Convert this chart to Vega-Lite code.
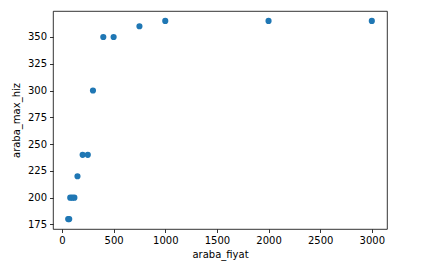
{
  "$schema": "https://vega.github.io/schema/vega-lite/v6.json",
  "width": 334,
  "height": 218,
  "autosize": "none",
  "padding": {"left": 53, "top": 11, "right": 44, "bottom": 41},
  "background": "white",
  "config": {
    "view": {"stroke": "black", "strokeWidth": 0.8},
    "font": "DejaVu Sans",
    "axis": {
      "grid": false,
      "domain": false,
      "tickColor": "black",
      "tickWidth": 0.8,
      "tickSize": 3.5,
      "labelColor": "black",
      "labelFontSize": 10,
      "labelFont": "DejaVu Sans",
      "labelPadding": 3,
      "titleFont": "DejaVu Sans",
      "titleFontSize": 10,
      "titleFontWeight": "normal",
      "titleColor": "black"
    }
  },
  "data": {
    "values": [
      {"araba_fiyat": 60, "araba_max_hiz": 180},
      {"araba_fiyat": 70, "araba_max_hiz": 180},
      {"araba_fiyat": 80, "araba_max_hiz": 200},
      {"araba_fiyat": 100, "araba_max_hiz": 200},
      {"araba_fiyat": 120, "araba_max_hiz": 200},
      {"araba_fiyat": 150, "araba_max_hiz": 220},
      {"araba_fiyat": 200, "araba_max_hiz": 240},
      {"araba_fiyat": 250, "araba_max_hiz": 240},
      {"araba_fiyat": 300, "araba_max_hiz": 300},
      {"araba_fiyat": 400, "araba_max_hiz": 350},
      {"araba_fiyat": 500, "araba_max_hiz": 350},
      {"araba_fiyat": 750, "araba_max_hiz": 360},
      {"araba_fiyat": 1000, "araba_max_hiz": 365},
      {"araba_fiyat": 2000, "araba_max_hiz": 365},
      {"araba_fiyat": 3000, "araba_max_hiz": 365}
    ]
  },
  "mark": {"type": "point", "shape": "circle", "filled": true, "opacity": 1, "size": 38, "color": "#1f77b4"},
  "encoding": {
    "x": {
      "field": "araba_fiyat",
      "type": "quantitative",
      "title": "araba_fiyat",
      "scale": {"domain": [-87, 3147], "nice": false, "zero": false},
      "axis": {"values": [0, 500, 1000, 1500, 2000, 2500, 3000], "format": "d", "titlePadding": 4}
    },
    "y": {
      "field": "araba_max_hiz",
      "type": "quantitative",
      "title": "araba_max_hiz",
      "scale": {"domain": [170.75, 374.25], "nice": false, "zero": false},
      "axis": {"values": [175, 200, 225, 250, 275, 300, 325, 350], "format": "d", "titlePadding": 6}
    }
  }
}
